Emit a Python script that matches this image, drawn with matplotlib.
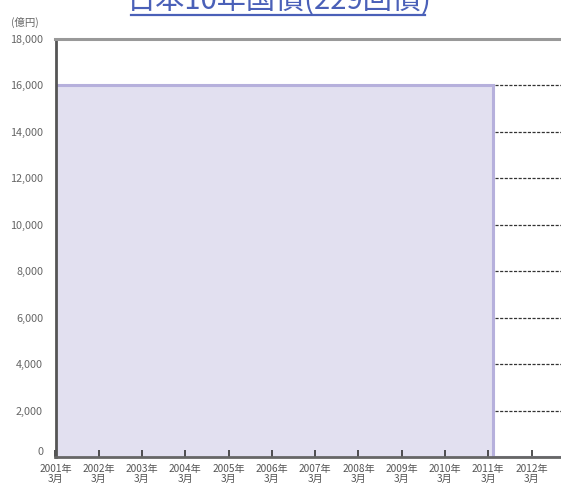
import matplotlib
matplotlib.use("Agg")
import matplotlib.pyplot as plt
from matplotlib.lines import Line2D

# data (億円)
dates = [2001.0, 2011.1, 2011.1, 2013.5]
balance = [16000, 16000, 0, 0]
year_ticks = list(range(2001, 2013))
tick_labels = [f"{y}年\n3月" for y in year_ticks]
guide_levels = [2000, 4000, 6000, 8000, 10000, 12000, 14000, 16000]
y_ticks = list(range(0, 18001, 2000))

font_cjk = ["Noto Sans CJK JP", "DejaVu Sans"]
plt.rcParams["font.family"] = font_cjk

fig = plt.figure(figsize=(5.61, 4.95), dpi=100)
ax = fig.add_axes([55.5 / 561, 38 / 495, 541 / 561, 418 / 495])

ax.fill_between(dates, balance, 0, color="#e2e0f0", linewidth=0)
ax.plot(dates, balance, color="#b6b0dc", lw=2.2, solid_joinstyle="miter")
ax.hlines(guide_levels, dates[1] + 0.05, dates[-1], colors="#333333",
          linestyles=(0, (2.5, 1.2)), lw=0.9)

ax.set_xlim(2001, 2013.5)
ax.set_ylim(0, 18000)
ax.set_xticks(year_ticks)
ax.set_xticklabels(tick_labels, fontsize=7.3, color="#555555", linespacing=1.05)
ax.set_yticks(y_ticks)
ax.set_yticklabels([f"{v:,}" for v in y_ticks], fontsize=7.8, color="#666666")
ax.tick_params(axis="x", direction="in", length=5, width=1.2, color="#333333", pad=5)
ax.tick_params(axis="y", length=0, pad=9)
ax.get_yticklabels()[0].set_va("bottom")

ax.spines["right"].set_visible(False)
ax.spines["left"].set_color("#555555")
ax.spines["left"].set_linewidth(2)
ax.spines["bottom"].set_color("#666666")
ax.spines["bottom"].set_linewidth(2)
ax.spines["top"].set_color("#999999")
ax.spines["top"].set_linewidth(2.2)

fig.text(0.02, 1 - 22 / 495, "(億円)", fontsize=7.5, color="#666666",
         va="center")

fig.text(0.497, 1 - 9 / 495, "日本10年国債(229回債)", fontsize=21,
         color="#4a60b8", ha="center", va="baseline")
fig.add_artist(Line2D([131 / 561, 425 / 561], [1 - 15 / 495, 1 - 15 / 495],
                      color="#4a60b8", lw=1.6))

fig.savefig("out.png", dpi=100)
